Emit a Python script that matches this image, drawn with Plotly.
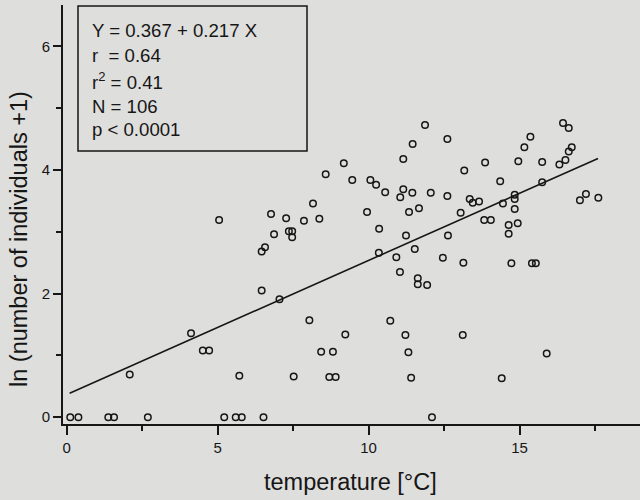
import plotly.graph_objects as go

# Water temperature (°C) and ln(number of individuals + 1) for each sample
temperature = [
    0.12, 0.39, 1.38, 1.57, 2.69, 5.22, 5.60, 5.80, 6.52, 12.10,
    2.09, 4.12, 4.51, 4.72, 5.05, 5.72,
    11.87, 11.46, 11.15, 12.61, 9.18, 8.58, 9.46, 10.06, 10.25, 10.55,
    11.15, 11.05, 11.45, 12.06, 12.61, 8.16, 6.77, 7.27, 7.86, 8.37,
    9.95, 11.34, 11.67, 6.87, 7.36, 7.47, 7.47, 10.35, 11.24, 6.57,
    6.46, 10.34, 10.92, 11.53, 12.46, 12.63,
    6.46, 7.05, 11.04, 11.63, 11.63, 11.94, 8.04, 10.72, 9.23, 11.22,
    8.43, 8.82, 11.32, 7.52, 8.70, 8.91, 11.41,
    13.12, 14.41, 15.90,
    16.44, 16.63, 15.36, 15.16, 16.73, 16.63, 16.52, 16.32, 13.86, 14.96,
    15.75, 13.17, 14.36, 15.75, 13.35, 13.45, 13.66, 14.45, 14.84, 14.84,
    14.84, 13.05, 13.83, 14.05, 14.64, 14.94, 14.64, 17.20, 17.00, 17.61,
    13.14, 14.73, 15.41, 15.54,
]
ln_individuals = [
    0, 0, 0, 0, 0, 0, 0, 0, 0, 0,
    0.69, 1.36, 1.08, 1.08, 3.19, 0.67,
    4.73, 4.42, 4.18, 4.50, 4.11, 3.93, 3.84, 3.84, 3.76, 3.64,
    3.69, 3.56, 3.63, 3.63, 3.58, 3.46, 3.29, 3.22, 3.18, 3.21,
    3.32, 3.32, 3.38, 2.96, 3.01, 3.01, 2.91, 3.05, 2.94, 2.75,
    2.68, 2.66, 2.59, 2.72, 2.58, 2.94,
    2.05, 1.91, 2.35, 2.25, 2.15, 2.14, 1.57, 1.56, 1.34, 1.33,
    1.06, 1.06, 1.05, 0.66, 0.65, 0.65, 0.64,
    1.33, 0.63, 1.03,
    4.76, 4.68, 4.54, 4.37, 4.37, 4.30, 4.16, 4.09, 4.12, 4.14,
    4.13, 3.99, 3.82, 3.80, 3.53, 3.47, 3.49, 3.46, 3.60, 3.53,
    3.37, 3.31, 3.19, 3.19, 3.11, 3.14, 2.97, 3.61, 3.51, 3.55,
    2.50, 2.49, 2.49, 2.49,
]

# Least-squares fit reported in the statistics box
intercept = 0.367
slope = 0.217
fit_x = [0.1, 17.6]
fit_y = [intercept + slope * v for v in fit_x]

stats_lines = [
    "Y = 0.367 + 0.217 X",
    "r\u00a0 = 0.64",
    "r<sup>2</sup> = 0.41",
    "N = 106",
    "p < 0.0001",
]

FONT = "Liberation Sans, Arial, Helvetica, sans-serif"
INK = "#161616"
BG = "rgb(222,222,220)"

# plot-area geometry (pixels) used to place the box and labels
W, H = 640, 500
ML, MR, MT, MB = 63, 0, 5, 76
PW, PH = W - ML - MR, H - MT - MB


def px(xpix):
    return (xpix - ML) / PW


def py(ypix):
    return (H - MB - ypix) / PH


fig = go.Figure()

fig.add_trace(go.Scatter(
    x=fit_x, y=fit_y, mode="lines",
    line=dict(color=INK, width=1.6),
    hoverinfo="skip", showlegend=False,
))

fig.add_trace(go.Scatter(
    x=temperature, y=ln_individuals, mode="markers",
    marker=dict(symbol="circle-open", size=6.5, color=INK,
                line=dict(color=INK, width=1.5)),
    showlegend=False,
))

# statistics box
fig.add_shape(type="rect", xref="paper", yref="paper",
              x0=px(78), x1=px(307), y0=py(151), y1=py(6),
              line=dict(color=INK, width=1.5), fillcolor=BG, layer="below")

for text, ycen in zip(stats_lines, [31, 55, 81, 106, 129]):
    fig.add_annotation(text=text, xref="paper", yref="paper",
                       x=px(90), y=py(ycen), xanchor="left", yanchor="middle",
                       showarrow=False, font=dict(family=FONT, size=18.6, color=INK))

# axis titles
fig.add_annotation(text="temperature [°C]", xref="paper", yref="paper",
                   x=px(350.5), y=py(482), xanchor="center", yanchor="middle",
                   showarrow=False, font=dict(family=FONT, size=23.5, color=INK))
fig.add_annotation(text="ln (number of individuals +1)", xref="paper", yref="paper",
                   x=px(19), y=py(239), xanchor="center", yanchor="middle",
                   textangle=-90, showarrow=False,
                   font=dict(family=FONT, size=23.5, color=INK))

fig.update_layout(
    width=W, height=H,
    margin=dict(l=ML, r=MR, t=MT, b=MB),
    paper_bgcolor=BG, plot_bgcolor=BG,
    font=dict(family=FONT, color=INK),
)

fig.update_xaxes(
    range=[-0.12, 18.99], showgrid=False, zeroline=False,
    showline=True, linecolor=INK, linewidth=2,
    tickmode="linear", tick0=0, dtick=5,
    ticks="outside", ticklen=9, tickwidth=2, tickcolor=INK,
    tickfont=dict(family=FONT, size=15, color=INK),
    minor=dict(dtick=2.5, tick0=0, ticks="outside", ticklen=5,
               tickwidth=2, tickcolor=INK, showgrid=False),
)
fig.update_yaxes(
    range=[-0.11, 6.67], showgrid=False, zeroline=False,
    showline=True, linecolor=INK, linewidth=2,
    tickmode="linear", tick0=0, dtick=2,
    ticks="outside", ticklen=8, tickwidth=2, tickcolor=INK,
    tickfont=dict(family=FONT, size=15, color=INK),
    minor=dict(dtick=1, tick0=0, ticks="outside", ticklen=5,
               tickwidth=2, tickcolor=INK, showgrid=False),
)

fig.write_html("out.html")
